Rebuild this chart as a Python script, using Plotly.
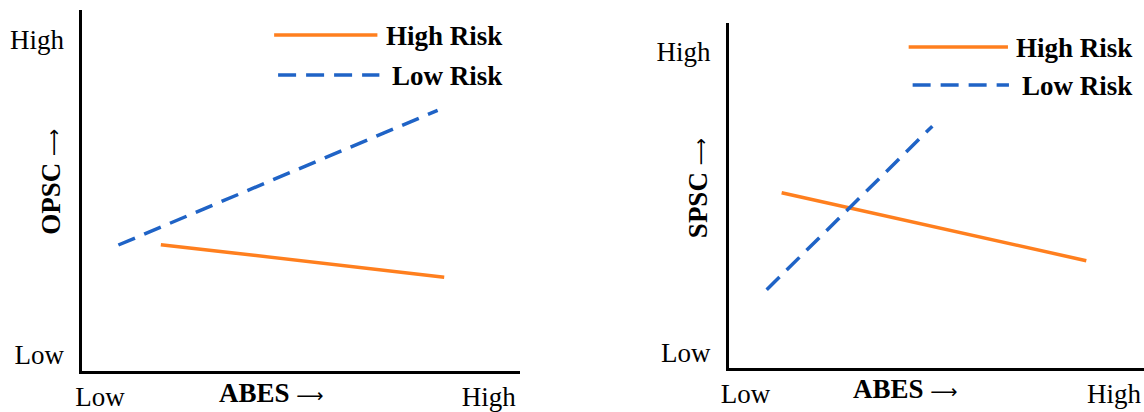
import plotly.graph_objects as go

# ---- data (relative levels on 0-10 scales) ----
series_names = ["High Risk", "Low Risk"]
left_high_x = [1.79, 8.26]
left_high_y = [3.50, 2.60]
left_low_x = [0.82, 8.11]
left_low_y = [3.49, 7.22]

right_high_x = [1.27, 8.61]
right_high_y = [5.08, 3.11]
right_low_x = [0.91, 4.90]
right_low_y = [2.27, 7.01]

tick_vals = [0.40, 9.28]
tick_y_vals = [0.45, 9.17]
tick_text = ["Low", "High"]
x_title = "ABES"
y_titles = ["OPSC", "SPSC"]

ORANGE = "#FF7F1E"
BLUE = "#1F63C6"
FONT = "Liberation Serif"
ARROW = '<span style="font-family:\'DejaVu Sans\';font-weight:normal;font-size:19px">⟶</span>'

fig = go.Figure()
fig.add_trace(go.Scatter(x=left_high_x, y=left_high_y, mode="lines", name=series_names[0],
                         line=dict(color=ORANGE, width=3.5), xaxis="x", yaxis="y", showlegend=False))
fig.add_trace(go.Scatter(x=left_low_x, y=left_low_y, mode="lines", name=series_names[1],
                         line=dict(color=BLUE, width=3.5, dash="18px,10px"), xaxis="x", yaxis="y", showlegend=False))
fig.add_trace(go.Scatter(x=right_high_x, y=right_high_y, mode="lines", name=series_names[0],
                         line=dict(color=ORANGE, width=3.5), xaxis="x2", yaxis="y2", showlegend=False))
fig.add_trace(go.Scatter(x=right_low_x, y=right_low_y, mode="lines", name=series_names[1],
                         line=dict(color=BLUE, width=3.5, dash="18px,10px"), xaxis="x2", yaxis="y2", showlegend=False))

W, H = 1144, 412

def px(x):
    return x / W

def py(y):
    return 1 - y / H

axis_common = dict(showline=True, linecolor="black", linewidth=3, showgrid=False, zeroline=False,
                   range=[0, 10], tickmode="array", ticktext=tick_text,
                   tickfont=dict(family=FONT, size=27, color="black"),
                   ticks="outside", tickcolor="rgba(0,0,0,0)")

fig.update_layout(
    width=W, height=H, margin=dict(l=0, r=0, t=0, b=0),
    paper_bgcolor="white", plot_bgcolor="white",
    xaxis=dict(domain=[px(75), px(516)], anchor="y", tickvals=tick_vals, ticklen=0, **axis_common),
    yaxis=dict(domain=[py(371), py(10)], anchor="x", tickvals=tick_y_vals, ticklen=10, **axis_common),
    xaxis2=dict(domain=[px(726), 1.0], anchor="y2", tickvals=tick_vals, ticklen=0, **axis_common),
    yaxis2=dict(domain=[py(368), py(23)], anchor="x2", tickvals=tick_y_vals, ticklen=10, **axis_common),
)

# axis titles
for (xc, yc) in [(265, 393), (904, 389)]:
    fig.add_annotation(x=px(xc), y=py(yc), xref="paper", yref="paper",
                       text="<b>" + x_title + " " + ARROW + "</b>",
                       showarrow=False, font=dict(family=FONT, size=27, color="black"),
                       xanchor="center", yanchor="middle")
for (xc, yc), t in zip([(43, 182), (695, 188)], y_titles):
    fig.add_annotation(x=px(xc), y=py(yc), xref="paper", yref="paper",
                       text="<b>" + t + " " + ARROW + "</b>",
                       textangle=-90, showarrow=False, font=dict(family=FONT, size=27, color="black"),
                       xanchor="center", yanchor="middle")

# legends (drawn manually)
legend_specs = [
    # (x0, x1, y, text_x, color, dash, name)
    (268, 372, 35, 379, ORANGE, "solid", series_names[0]),
    (272, 374, 75, 385, BLUE, "dash", series_names[1]),
    (907, 1007, 47, 1013, ORANGE, "solid", series_names[0]),
    (911, 1008, 85, 1019, BLUE, "dash", series_names[1]),
]
for x0, x1, y, tx, color, dash, name in legend_specs:
    fig.add_shape(type="line", xref="paper", yref="paper", x0=px(x0), x1=px(x1), y0=py(y), y1=py(y),
                  line=dict(color=color, width=3.5, dash="18px,10px" if dash == "dash" else "solid"))
    fig.add_annotation(x=px(tx), y=py(y + 1), xref="paper", yref="paper", text="<b>" + name + "</b>",
                       showarrow=False, font=dict(family=FONT, size=27, color="black"),
                       xanchor="left", yanchor="middle")

fig.write_html("out.html", config={"displayModeBar": False},
               post_script="document.body.style.margin='0';document.body.style.overflow='hidden';")
